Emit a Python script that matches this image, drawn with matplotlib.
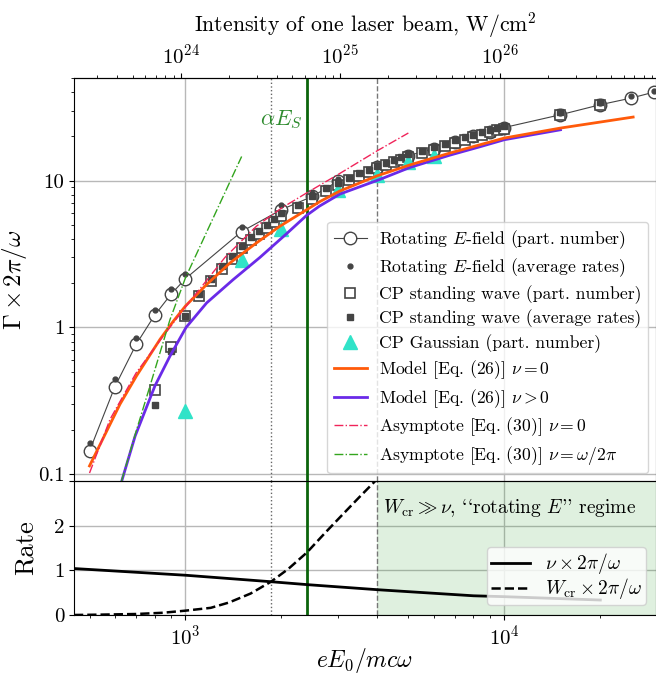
import numpy as np
import matplotlib
matplotlib.use("Agg")
import matplotlib.pyplot as plt
from matplotlib.ticker import FixedLocator, FuncFormatter, NullFormatter, LogLocator

plt.rcParams['font.family'] = ['cmr10', 'DejaVu Serif']
plt.rcParams['mathtext.fontset'] = 'cm'
plt.rcParams['axes.formatter.use_mathtext'] = True
plt.rcParams['axes.unicode_minus'] = False

# ---------------- data ----------------
rotE_x = [500, 600, 700, 800, 900, 1000, 1500, 2000, 2500, 3000, 4000, 5000, 6000,
          7000, 8000, 9000, 10000, 15000, 20000, 25000, 29500]
rotE_part = [0.144, 0.393, 0.766, 1.21, 1.68, 2.15, 4.5, 6.35, 7.8, 9.9, 12.4, 14.8,
             16.5, 18.3, 20.0, 21.6, 23.0, 28.1, 32.9, 36.5, 40.1]
rotE_avg = [0.163, 0.443, 0.842, 1.31, 1.83, 2.33, 4.81, 6.87, 8.2, 10.3, 12.8, 15.2,
            17.0, 18.8, 20.6, 22.2, 23.6, 29.0, 33.8, 37.5, 41.0]

cpsw_x = [800, 900, 1000, 1100, 1200, 1300, 1400, 1500, 1600, 1700, 1800, 1900, 2000,
          2250, 2500, 2750, 3000, 3250, 3500, 3750, 4000, 4250, 4500, 4750, 5000,
          5500, 6000, 6500, 7000, 7500, 8000, 8500, 9000, 9500, 10000, 15000, 20000]
cpsw_part = [0.375, 0.734, 1.19, 1.63, 2.07, 2.51, 2.93, 3.45, 3.95, 4.35, 4.77, 5.25,
             5.75, 6.55, 7.5, 8.5, 9.35, 10.1, 10.8, 11.5, 12.1, 12.7, 13.4, 13.9,
             14.5, 15.4, 16.2, 17.2, 18.0, 18.9, 19.7, 20.6, 21.3, 22.1, 22.6, 28.0, 32.8]
cpsw_avg = [0.296, 0.687, 1.19, 1.68, 2.15, 2.62, 3.05, 3.6, 4.1, 4.55, 5.0, 5.5, 6.0,
            6.85, 7.8, 8.85, 9.7, 10.5, 11.2, 11.9, 12.6, 13.2, 13.9, 14.5, 15.1,
            16.0, 16.9, 17.9, 18.8, 19.7, 20.5, 21.4, 22.2, 23.0, 23.6, 29.3, 34.2]

gauss_x = [1000, 1500, 2000, 3000, 4000, 5000, 6000]
gauss_part = [0.27, 2.90, 4.69, 8.68, 10.9, 13.4, 14.8]

model0_x = [500, 623, 703, 832, 915, 1000, 1165, 1379, 1671, 1977, 2640, 3050, 4000,
            5060, 6740, 10000, 15000, 25350]
model0_y = [0.114, 0.30, 0.47, 0.83, 1.10, 1.40, 1.96, 2.75, 3.77, 4.89, 7.2, 8.5,
            10.8, 12.8, 15.4, 19.5, 22.8, 27.1]

model1_x = [631, 695, 802, 894, 1004, 1165, 1412, 1712, 2075, 2398, 2630, 3050, 4075,
            5060, 6740, 8380, 10000, 15000]
model1_y = [0.09, 0.182, 0.40, 0.638, 1.00, 1.47, 2.12, 3.0, 4.35, 5.8, 6.7, 8.1, 10.2,
            12.3, 14.9, 17.0, 19.0, 22.2]

asym0_x = [500, 580, 700, 850, 1000, 1330, 1670, 2000, 2400, 3050, 4000, 5000]
asym0_y = [0.102, 0.237, 0.49, 0.87, 1.38, 3.0, 4.9, 6.5, 8.25, 11.2, 16.0, 21.1]

asym1_x = [630, 703, 774, 894, 1000, 1500]
asym1_y = [0.09, 0.202, 0.40, 1.13, 2.18, 14.6]

nu_x = [447, 1000, 1854, 2404, 4000, 8000, 10000, 20000]
nu_y = [1.04, 0.89, 0.745, 0.68, 0.566, 0.43, 0.41, 0.335]

wcr_x = [447, 532, 700, 850, 1000, 1200, 1370, 1600, 1854, 2100, 2404, 2750, 3120, 3500, 4000]
wcr_y = [0.0, 0.007, 0.022, 0.05, 0.097, 0.16, 0.28, 0.48, 0.745, 1.03, 1.40, 1.85, 2.26, 2.63, 3.05]

x_dotted = 1854      # W_cr = nu
x_alphaES = 2406     # alpha E_S
x_dashed = 4000      # rotating-E regime boundary
K_int = 1.07e18      # intensity of one beam = K * a0^2

# ---------------- figure ----------------
fig = plt.figure(figsize=(6.56, 6.73), dpi=100)
ax1 = fig.add_axes([0.1128, 0.2853, 0.8872, 0.5988])
ax2 = fig.add_axes([0.1128, 0.0862, 0.8872, 0.1991], sharex=ax1)

xlim = (447, 29900)
gray = '#444444'
gridc = '#b8b8b8'

for ax in (ax1, ax2):
    ax.set_xscale('log')
    ax.grid(True, which='major', color=gridc, lw=1.0)
    ax.set_axisbelow(True)
    ax.tick_params(labelsize=15)
    ax.axvline(x_dotted, color='#666666', ls=':', lw=1.0)
    ax.axvline(x_alphaES, color='#0b640b', ls='-', lw=2.0)
    ax.axvline(x_dashed, color='#777777', ls='--', lw=1.0)

ax1.set_yscale('log')
ax1.set_xlim(*xlim)
ax1.set_ylim(0.09, 50)

# data
ax1.plot(rotE_x, rotE_part, '-o', color=gray, lw=0.8, ms=9, mfc='white', mec=gray,
         mew=1.0, label=r'Rotating $E$-field (part. number)', zorder=3)
ax1.plot(rotE_x, rotE_avg, '.', color=gray, ms=7, label=r'Rotating $E$-field (average rates)', zorder=4)
ax1.plot(cpsw_x, cpsw_part, 's', ls='none', ms=7, mfc='white', mec=gray, mew=1.2,
         label='CP standing wave (part. number)', zorder=3)
ax1.plot(cpsw_x, cpsw_avg, 's', ls='none', ms=4, color=gray,
         label='CP standing wave (average rates)', zorder=4)
ax1.plot(gauss_x, gauss_part, '^', ls='none', ms=10, color='#30e3c8',
         label='CP Gaussian (part. number)', zorder=3)
ax1.plot(model0_x, model0_y, '-', color='#ff5a0a', lw=2.0, label=r'Model [Eq. (26)] $\nu=0$', zorder=5)
ax1.plot(model1_x, model1_y, '-', color='#6a2ae8', lw=2.0, label=r'Model [Eq. (26)] $\nu>0$', zorder=4.5)
ax1.plot(asym0_x, asym0_y, '-.', color='#f0245a', lw=1.0, label=r'Asymptote [Eq. (30)] $\nu=0$', zorder=5)
ax1.plot(asym1_x, asym1_y, '-.', color='#33a51e', lw=1.0, label=r'Asymptote [Eq. (30)] $\nu=\omega/2\pi$', zorder=5)

ax1.yaxis.set_major_locator(FixedLocator([0.1, 1, 10]))
ax1.yaxis.set_major_formatter(FuncFormatter(lambda v, p: {0.1: '0.1', 1: '1', 10: '10'}.get(round(v, 3), '')))
ax1.yaxis.set_minor_formatter(NullFormatter())
ax1.tick_params(axis='x', labelbottom=False)
ax1.set_ylabel(r'$\Gamma\times 2\pi/\omega$', fontsize=18, labelpad=6)
ax1.text(2330, 26, r'$\alpha E_S$', color='#2e8b2e', fontsize=16, ha='right', va='center')

leg1 = ax1.legend(loc='lower right', fontsize=12.7, handlelength=1.9, labelspacing=0.33,
                  borderpad=0.35, handletextpad=0.7, borderaxespad=0.45)

def fwd(a):
    return K_int * np.asarray(a, dtype=float) ** 2

def inv(I):
    return np.sqrt(np.maximum(np.asarray(I, dtype=float), 1e-300) / K_int)

sec = ax1.secondary_xaxis('top', functions=(fwd, inv))
sec.xaxis.set_major_locator(FixedLocator([1e24, 1e25, 1e26]))
sec.xaxis.set_minor_locator(LogLocator(base=10, subs=np.arange(2, 10)))
sec.xaxis.set_minor_formatter(NullFormatter())
sec.tick_params(labelsize=15)
sec.set_xlabel('Intensity of one laser beam, W/cm$^2$', fontsize=15.7, labelpad=9)

# bottom panel
ax2.set_ylim(0, 3)
ax2.axvspan(x_dashed, 1e6, color='#2ca02c', alpha=0.15, lw=0)
ax2.plot(nu_x, nu_y, '-', color='black', lw=2.0, label=r'$\nu\times 2\pi/\omega$')
ax2.plot(wcr_x, wcr_y, '--', color='black', lw=1.8, label=r'$W_{\rm cr}\times 2\pi/\omega$')
ax2.set_yticks([0, 1, 2, 3])
ax2.set_yticklabels(['0', '1', '2', ''])
ax2.set_xlim(*xlim)
ax2.set_xlabel(r'$eE_0/mc\omega$', fontsize=17, labelpad=-2)
ax2.set_ylabel('Rate', fontsize=19, labelpad=12)
ax2.text(4150, 2.4, r"$W_{\rm cr}\gg\nu$, ``rotating $E$'' regime", fontsize=14, va='center')
ax2.legend(loc='lower right', fontsize=14, handlelength=2.0, labelspacing=0.0, borderpad=0.2)

fig.savefig('out.png', dpi=100)
